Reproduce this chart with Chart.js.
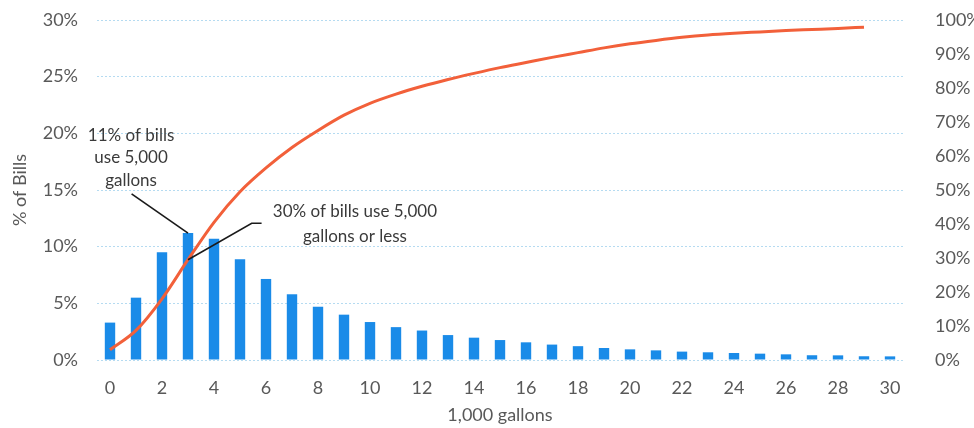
<!DOCTYPE html>
<html>
<head>
<meta charset="utf-8">
<script src="https://cdn.jsdelivr.net/npm/chart.js@4/dist/chart.umd.min.js"></script>
<style>
  html, body { margin: 0; padding: 0; background: #ffffff; }
  #wrap { width: 974px; height: 428px; }
</style>
</head>
<body>
<div id="wrap"><canvas id="c" width="974" height="428"></canvas></div>
<script>
// Monthly usage buckets, in thousands of gallons
const usageBuckets = [0,1,2,3,4,5,6,7,8,9,10,11,12,13,14,15,16,17,18,19,20,21,22,23,24,25,26,27,28,29,30];

// Share of bills falling in each bucket (%)
const billShare = [3.3,5.5,9.5,11.2,10.7,8.9,7.15,5.8,4.7,4.0,3.35,2.9,2.6,2.2,1.97,1.76,1.56,1.36,1.22,1.06,0.94,0.85,0.74,0.68,0.62,0.56,0.5,0.42,0.41,0.33,0.32];

// Cumulative share of bills at or below each bucket (%)
const cumulativeShare = [3.0,8.7,18.0,29.5,40.5,49.5,56.5,62.5,67.5,72.0,75.5,78.2,80.5,82.5,84.3,86.0,87.5,89.0,90.4,91.8,93.0,94.0,94.9,95.6,96.1,96.5,96.9,97.2,97.5,97.9];

// Axis tick settings
const leftTicksMax = 30, leftTicksStep = 5;
const rightTicksMax = 100, rightTicksStep = 10;

// Callout notes
const noteBars = { lines: ['11% of bills', 'use 5,000', 'gallons'], cat: 0.81, val: 19.85, pointCat: 3, pointVal: billShare[3], fromCat: 0.83, fromVal: 14.65 };
const noteCum = { lines: ['30% of bills use 5,000', 'gallons or less'], cat: 9.42, val: 13.06, pointCat: 3, pointVal: cumulativeShare[3], elbowCats: [5.83, 5.45], elbowVal: 12.06 };

const FONT = 'Lato, "Open Sans", sans-serif';
const TICK_COLOR = '#595959';

const calloutPlugin = {
  id: 'callouts',
  afterDatasetsDraw(chart) {
    const { ctx, scales: { x, y, y1 } } = chart;
    ctx.save();
    ctx.strokeStyle = '#1a1a1a';
    ctx.lineWidth = 1.6;
    // leader to the tallest bar
    ctx.beginPath();
    ctx.moveTo(x.getPixelForValue(noteBars.fromCat), y.getPixelForValue(noteBars.fromVal));
    ctx.lineTo(x.getPixelForValue(noteBars.pointCat), y.getPixelForValue(noteBars.pointVal));
    ctx.stroke();
    // elbow leader to the cumulative curve
    ctx.beginPath();
    ctx.moveTo(x.getPixelForValue(noteCum.elbowCats[0]), y.getPixelForValue(noteCum.elbowVal));
    ctx.lineTo(x.getPixelForValue(noteCum.elbowCats[1]), y.getPixelForValue(noteCum.elbowVal));
    ctx.lineTo(x.getPixelForValue(noteCum.pointCat), y1.getPixelForValue(noteCum.pointVal));
    ctx.stroke();

    ctx.fillStyle = '#3a3a3a';
    ctx.font = '17px ' + FONT;
    ctx.textAlign = 'center';
    ctx.textBaseline = 'middle';
    const drawNote = (n, gap) => {
      const cx = x.getPixelForValue(n.cat);
      const cy = y.getPixelForValue(n.val);
      n.lines.forEach((t, i) => ctx.fillText(t, cx, cy + i * gap));
    };
    drawNote(noteBars, 22.5);
    drawNote(noteCum, 25);
    ctx.restore();
  }
};

// vertical axes: fixed width, no extra top/bottom reserve
const fixVertical = w => s => { s.width = w; s.paddingTop = 0; s.paddingBottom = 0; };

new Chart(document.getElementById('c'), {
  type: 'bar',
  data: {
    labels: usageBuckets,
    datasets: [
      {
        type: 'line',
        label: 'Cumulative % of bills',
        data: cumulativeShare,
        yAxisID: 'y1',
        borderColor: '#f2603a',
        borderWidth: 3,
        pointRadius: 0,
        cubicInterpolationMode: 'monotone',
        fill: false,
        order: 0
      },
      {
        type: 'bar',
        label: '% of bills',
        data: billShare,
        yAxisID: 'y',
        backgroundColor: '#1a8be8',
        barPercentage: 0.4,
        categoryPercentage: 1.0,
        order: 1
      }
    ]
  },
  options: {
    responsive: false,
    animation: false,
    devicePixelRatio: 1,
    layout: { padding: { top: 20, right: 0, bottom: 0, left: 0 } },
    plugins: { legend: { display: false }, tooltip: { enabled: false } },
    scales: {
      x: {
        grid: { display: false, drawTicks: false },
        border: { display: false },
        ticks: {
          autoSkip: false,
          maxRotation: 0,
          padding: 17,
          color: TICK_COLOR,
          font: { family: FONT, size: 18 },
          callback: function (v, i) { return i % 2 === 0 ? this.getLabelForValue(v) : ''; }
        },
        title: { display: true, text: '1,000 gallons', color: TICK_COLOR, font: { family: FONT, size: 18 }, padding: { top: 0, bottom: 2 } },
        afterFit(s) { s.height = 68; }
      },
      y: {
        position: 'left',
        min: 0, max: leftTicksMax,
        grid: { drawTicks: false, color: '#b5dbf1', lineWidth: 1 },
        border: { display: false, dash: [2, 2] },
        ticks: { stepSize: leftTicksStep, padding: 19, color: TICK_COLOR, font: { family: FONT, size: 18 }, callback: v => v + '%' },
        title: { display: true, text: '% of Bills', color: TICK_COLOR, font: { family: FONT, size: 18 }, padding: { top: 9, bottom: 0 } },
        afterFit: fixVertical(97)
      },
      y1: {
        position: 'right',
        min: 0, max: rightTicksMax,
        grid: { display: false, drawTicks: false },
        border: { display: false },
        ticks: { stepSize: rightTicksStep, padding: 32, color: TICK_COLOR, font: { family: FONT, size: 18 }, callback: v => v + '%' },
        afterFit: fixVertical(71)
      }
    }
  },
  plugins: [calloutPlugin]
});
</script>
</body>
</html>
